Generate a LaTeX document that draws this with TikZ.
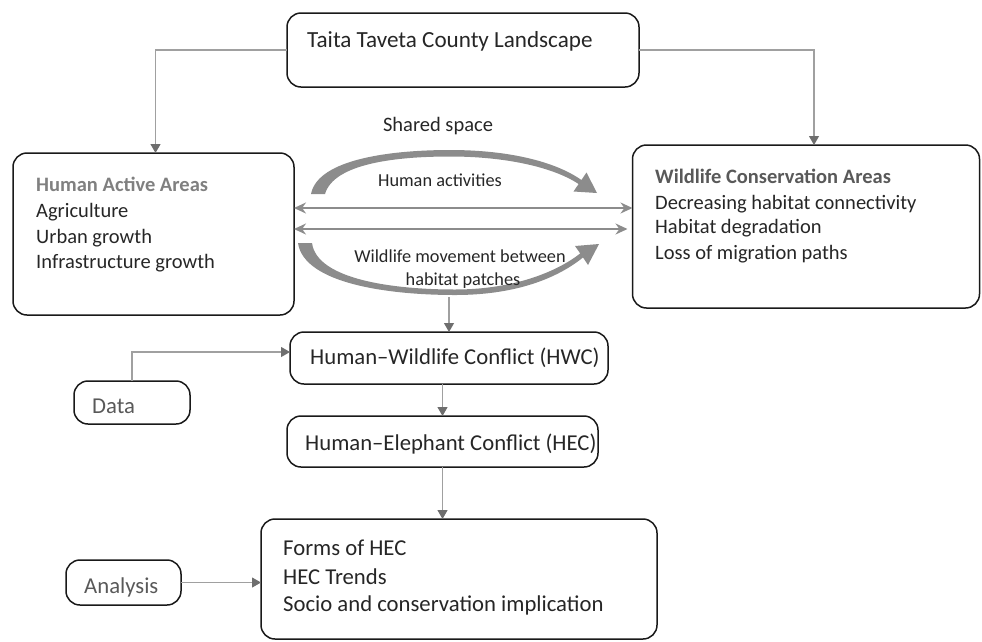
\documentclass[tikz,border=0pt]{standalone}
\usepackage{fontspec}
\setmainfont{Carlito}
\usetikzlibrary{arrows.meta}
\definecolor{txtc}{HTML}{262626}
\definecolor{ttlA}{HTML}{808080}
\definecolor{ttlB}{HTML}{595959}
\definecolor{linec}{HTML}{A0A0A0}
\definecolor{headc}{HTML}{6E6E6E}
\definecolor{arcc}{HTML}{8C8C8C}
\begin{document}
\begin{tikzpicture}[x=1pt,y=-1pt,
  box/.style={draw=black!90, line width=1.5pt, rounded corners=14pt, inner sep=0pt, outer sep=0pt},
  txt/.style={inner sep=0pt, anchor=base west, text=txtc, font=\fontsize{20.5}{24}\selectfont},
  big/.style={inner sep=0pt, anchor=base west, text=txtc, font=\fontsize{22.7}{27}\selectfont},
  mid/.style={inner sep=0pt, anchor=base, text=txtc, font=\fontsize{18.3}{22}\selectfont},
  conn/.style={draw=linec, line width=1.1pt, -{Triangle[length=9pt,width=10pt,color=headc]}},
  dbl/.style={draw=arcc, line width=1.8pt, {Stealth[length=12pt,width=11pt]}-{Stealth[length=12pt,width=11pt]}},
]
\useasboundingbox (0,0) rectangle (982,641);
% boxes
\node[box, minimum width=352pt, minimum height=74pt] (top) at (463,50) {};
\node[box, minimum width=281pt, minimum height=162pt] (lbox) at (153.5,234) {};
\node[box, minimum width=347pt, minimum height=163pt] (rbox) at (806,226.5) {};
\node[box, minimum width=318pt, minimum height=52pt] (hwc) at (449,358) {};
\node[box, minimum width=116pt, minimum height=43pt] (data) at (132,402.5) {};
\node[box, minimum width=311pt, minimum height=51pt] (hec) at (442.5,441.5) {};
\node[box, minimum width=115pt, minimum height=45pt] (ana) at (123.5,582.5) {};
\node[box, minimum width=396pt, minimum height=120pt] (res) at (459,579) {};
% texts
\node[big, font=\fontsize{23.1}{27}\selectfont] (ttop) at (307,47) {Taita Taveta County Landscape};
\node[txt, text=ttlA, font=\fontsize{20.5}{24}\selectfont\bfseries] (l0) at (36,191) {Human Active Areas};
\node[txt] (l1) at (36,217) {Agriculture};
\node[txt] (l2) at (36,243) {Urban growth};
\node[txt] (l3) at (36,268) {Infrastructure growth};
\node[txt, text=ttlB, font=\fontsize{20.5}{24}\selectfont\bfseries] (r0) at (655,183) {Wildlife Conservation Areas};
\node[txt] (r1) at (655,209) {Decreasing habitat connectivity};
\node[txt] (r2) at (655,233) {Habitat degradation};
\node[txt] (r3) at (655,259) {Loss of migration paths};
\node[big] (thwc) at (310,364) {Human–Wildlife Conflict (HWC)};
\node[big] (thec) at (305,450) {Human–Elephant Conflict (HEC)};
\node[big, text=ttlB] (tdata) at (92,413) {Data};
\node[big, text=ttlB] (tana) at (84,593) {Analysis};
\node[big] (s1) at (283,555) {Forms of HEC};
\node[big] (s2) at (283,584) {HEC Trends};
\node[big] (s3) at (283,611) {Socio and conservation implication};
\node[mid, font=\fontsize{20.5}{24}\selectfont] (shared) at (438,131) {Shared space};
% curved arrows
\fill[arcc] (311,194) .. controls (318,158) and (395,150) .. (450,150)
  .. controls (510,150) and (556,162) .. (581.4,180)
  -- (586.5,172.5) -- (597,193) -- (573.5,191.5) -- (578.6,184)
  .. controls (553,167) and (505,156.5) .. (450,156.5)
  .. controls (398,156.5) and (334,163) .. (325,194) -- cycle;
\fill[arcc] (298,243) .. controls (304,284) and (390,295) .. (455,295)
  .. controls (520,295) and (560,276) .. (583,257.5)
  -- (588,265) -- (599,244) -- (575,246) -- (580.2,253.4)
  .. controls (558,271) and (515,289.5) .. (455,289.5)
  .. controls (395,289.5) and (317,280) .. (312,243) -- cycle;
\node[mid] (hact) at (440,186) {Human activities};
\node[mid] (wm1) at (460,262) {Wildlife movement between};
\node[mid] (wm2) at (463,285) {habitat patches};
% double arrows
\draw[dbl] (lbox.east |- {(0,208)}) -- (rbox.west |- {(0,208)});
\draw[dbl] (lbox.east |- {(0,229)}) -- ([xshift=-5pt]rbox.west |- {(0,229)});
% connectors
\coordinate (arcb) at (449,297);
\draw[conn] (top.west) -| ([xshift=2pt]lbox.north);
\draw[conn] (top.east) -| ([xshift=8pt]rbox.north);
\draw[conn] (arcb) -- (hwc.north);
\draw[conn] (data.north) |- ([yshift=6pt]hwc.west);
\draw[conn] (hwc.south -| hec.north) -- (hec.north);
\draw[conn] (hec.south) -- (hec.south |- res.north);
\draw[conn] (ana.east) -- (ana.east -| res.west);
\end{tikzpicture}
\end{document}
